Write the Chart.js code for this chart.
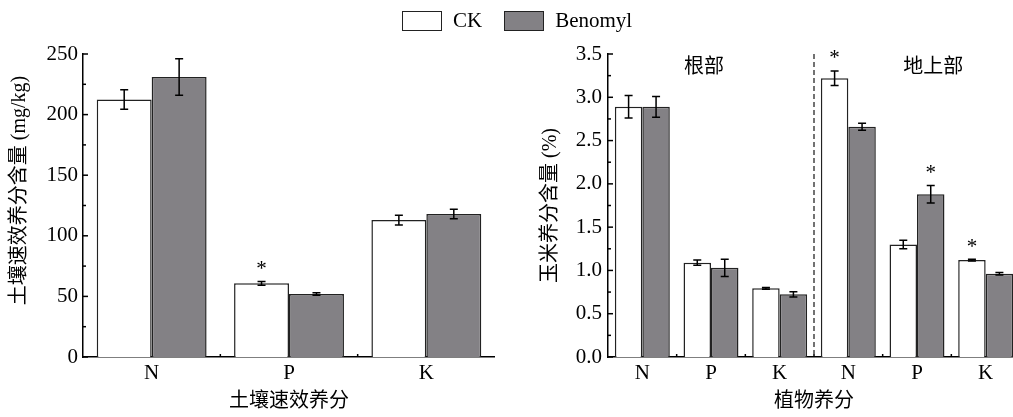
<!DOCTYPE html>
<html lang="zh">
<head>
    <meta charset="UTF-8">
    <title>土壤与植物养分含量</title>
    <script src="https://cdn.jsdelivr.net/npm/chart.js"></script>
    <style>
        html, body {
            margin: 0;
            padding: 0;
            width: 1013px;
            height: 417px;
            overflow: hidden;
            background: #fff;
            font-family: "Liberation Serif", "Noto Sans CJK SC", serif;
        }
        .wrap {
            position: absolute;
            top: 0;
        }
        #leftWrap { left: 0; width: 495px; height: 417px; }
        #rightWrap { left: 530px; width: 490px; height: 417px; }
        .legend {
            position: absolute;
            top: 8px;
            left: 402px;
            display: flex;
            align-items: center;
            font-size: 21px;
            color: #000;
        }
        .legend .box {
            width: 38px;
            height: 18px;
            border: 1.5px solid #222;
            margin-right: 11px;
        }
        .legend .item {
            display: flex;
            align-items: center;
            margin-right: 22px;
        }
    </style>
</head>
<body>
    <div class="wrap" id="leftWrap"><canvas id="soilChart"></canvas></div>
    <div class="wrap" id="rightWrap"><canvas id="plantChart"></canvas></div>

    <div class="legend">
        <div class="item"><span class="box" style="background:#fff"></span>CK</div>
        <div class="item"><span class="box" style="background:#838185"></span>Benomyl</div>
    </div>

    <script>
        // soil available nutrients (mg/kg)
        const soilLabels = ['N', 'P', 'K'];
        const soilCK = [212.5, 60.8, 113];
        const soilCKErr = [8, 1.5, 4];
        const soilBen = [231, 52, 118];
        const soilBenErr = [15, 1, 4];
        const soilSigCK = [false, true, false];
        const soilSigBen = [false, false, false];
        const soilTicks = [0, 50, 100, 150, 200, 250];

        // maize nutrient content (%), first three = root, last three = shoot
        const plantLabels = ['N', 'P', 'K', 'N', 'P', 'K'];
        const plantCK = [2.89, 1.09, 0.793, 3.22, 1.30, 1.12];
        const plantCKErr = [0.13, 0.03, 0.01, 0.085, 0.05, 0.01];
        const plantBen = [2.89, 1.03, 0.724, 2.66, 1.88, 0.962];
        const plantBenErr = [0.12, 0.10, 0.03, 0.04, 0.10, 0.015];
        const plantSigCK = [false, false, false, true, false, true];
        const plantSigBen = [false, false, false, false, true, false];
        const plantTicks = [0, 0.5, 1.0, 1.5, 2.0, 2.5, 3.0, 3.5];

        const FONT = '"Liberation Serif", "Noto Sans CJK SC", serif';
        const BEN_COLOR = '#838185';

        Chart.defaults.font.family = FONT;
        Chart.defaults.color = '#000';
        Chart.defaults.devicePixelRatio = 1;

        // error bars, significance stars, inward ticks, y title
        const extrasPlugin = {
            id: 'extras',
            afterDatasetsDraw(chart, args, opts) {
                const ctx = chart.ctx;
                const xs = chart.scales.x, ys = chart.scales.y;
                const area = chart.chartArea;
                ctx.save();
                ctx.strokeStyle = '#000';
                ctx.lineWidth = 1.5;

                chart.data.datasets.forEach((ds, di) => {
                    const meta = chart.getDatasetMeta(di);
                    meta.data.forEach((bar, i) => {
                        const v = ds.data[i], e = ds.err[i];
                        const x = bar.x;
                        const yt = ys.getPixelForValue(v + e);
                        const yb = ys.getPixelForValue(v - e);
                        ctx.beginPath();
                        ctx.moveTo(x, yt); ctx.lineTo(x, yb);
                        ctx.moveTo(x - 4, yt); ctx.lineTo(x + 4, yt);
                        ctx.moveTo(x - 4, yb); ctx.lineTo(x + 4, yb);
                        ctx.stroke();
                        if (ds.sig[i]) {
                            ctx.fillStyle = '#000';
                            ctx.font = '21px ' + FONT;
                            ctx.textAlign = 'center';
                            ctx.textBaseline = 'middle';
                            ctx.fillText('*', x, yt - 12);
                        }
                    });
                });

                // inward major / minor ticks on y
                const step = opts.step;
                for (let v = ys.min; v <= ys.max + 1e-9; v += step / 2) {
                    const y = ys.getPixelForValue(v);
                    const major = Math.abs(v / step - Math.round(v / step)) < 1e-6;
                    ctx.beginPath();
                    ctx.moveTo(area.left, y);
                    ctx.lineTo(area.left + (major ? 5 : 3), y);
                    ctx.stroke();
                }
                // small ticks between categories on x
                for (let i = 1; i < chart.data.labels.length; i++) {
                    const x = (xs.getPixelForValue(i - 1) + xs.getPixelForValue(i)) / 2;
                    ctx.beginPath();
                    ctx.moveTo(x, area.bottom);
                    ctx.lineTo(x, area.bottom - 3);
                    ctx.stroke();
                }

                ctx.fillStyle = '#000';
                ctx.font = '20px ' + FONT;
                ctx.textAlign = 'center';
                ctx.textBaseline = 'middle';

                // y axis title
                ctx.save();
                ctx.translate(opts.titleX, (area.top + area.bottom) / 2 + opts.titleShift);
                ctx.rotate(-Math.PI / 2);
                ctx.fillText(opts.yTitle, 0, 0);
                ctx.restore();

                if (opts.groups) {
                    const xm = (xs.getPixelForValue(2) + xs.getPixelForValue(3)) / 2;
                    ctx.strokeStyle = '#444';
                    ctx.lineWidth = 1.5;
                    ctx.setLineDash([5, 3]);
                    ctx.beginPath();
                    ctx.moveTo(xm, area.top);
                    ctx.lineTo(xm, area.bottom);
                    ctx.stroke();
                    ctx.setLineDash([]);
                    const ly = ys.getPixelForValue(3.34);
                    ctx.fillText('根部', xs.getPixelForValue(1) - 7, ly);
                    ctx.fillText('地上部', (xs.getPixelForValue(4) + xs.getPixelForValue(5)) / 2 - 18, ly);
                }
                ctx.restore();
            }
        };

        function makeChart(id, labels, ck, ckErr, ckSig, ben, benErr, benSig, ticks, yTitle, xTitle, yWidth, titleX, titleShift, tickPad, fmt, groups) {
            const step = ticks[1] - ticks[0];
            return new Chart(document.getElementById(id), {
                type: 'bar',
                data: {
                    labels: labels,
                    datasets: [
                        { label: 'CK', data: ck, err: ckErr, sig: ckSig,
                          backgroundColor: '#fff', borderColor: '#222', borderWidth: 1.5 },
                        { label: 'Benomyl', data: ben, err: benErr, sig: benSig,
                          backgroundColor: BEN_COLOR, borderColor: '#222', borderWidth: 1.5 }
                    ]
                },
                options: {
                    responsive: true,
                    maintainAspectRatio: false,
                    animation: false,
                    layout: { padding: { top: 54, right: 0, bottom: 0, left: 0 } },
                    datasets: { bar: { categoryPercentage: 0.8, barPercentage: 1.0 } },
                    plugins: {
                        legend: { display: false },
                        tooltip: { enabled: false },
                        extras: { step: step, groups: groups, yTitle: yTitle, titleX: titleX, titleShift: titleShift }
                    },
                    scales: {
                        x: {
                            grid: { display: false, drawTicks: false },
                            border: { color: '#000', width: 1.5 },
                            ticks: { font: { size: 21 }, padding: 4, color: '#000' },
                            title: { display: true, text: xTitle, font: { size: 20 }, padding: { top: 0, bottom: 3 }, color: '#000' },
                            afterFit: s => { s.height = 60; }
                        },
                        y: {
                            min: ticks[0],
                            max: ticks[ticks.length - 1],
                            afterBuildTicks: s => { s.ticks = ticks.map(v => ({ value: v })); },
                            grid: { display: false, drawTicks: false },
                            border: { color: '#000', width: 1.5 },
                            ticks: { font: { size: 21 }, padding: tickPad, color: '#000', callback: v => fmt(v) },
                            title: { display: false },
                            afterFit: s => { s.width = yWidth; }
                        }
                    }
                },
                plugins: [extrasPlugin]
            });
        }

        makeChart('soilChart', soilLabels, soilCK, soilCKErr, soilSigCK, soilBen, soilBenErr, soilSigBen,
            soilTicks, '土壤速效养分含量 (mg/kg)', '土壤速效养分', 83, 20, -15, 5, v => String(v), false);

        makeChart('plantChart', plantLabels, plantCK, plantCKErr, plantSigCK, plantBen, plantBenErr, plantSigBen,
            plantTicks, '玉米养分含量 (%)', '植物养分', 78, 21, 0, 6, v => v.toFixed(1), true);
    </script>
</body>
</html>
